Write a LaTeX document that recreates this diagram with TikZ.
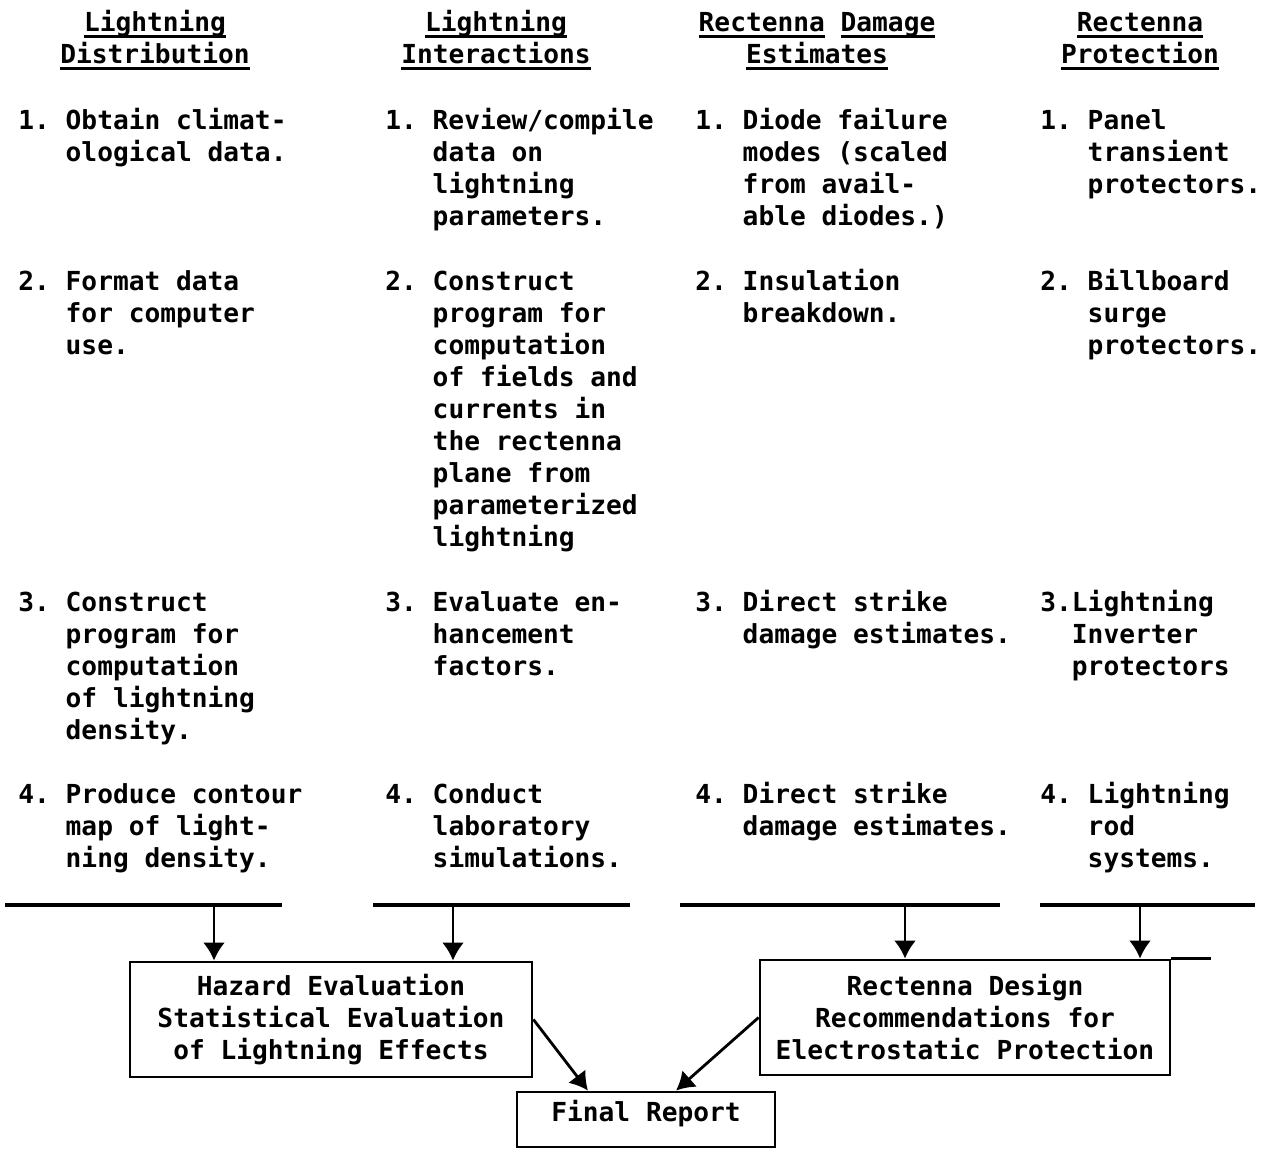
\documentclass[tikz,border=0pt]{standalone}
\usepackage{fontspec}
\setmonofont{DejaVu Sans Mono}
\usetikzlibrary{arrows.meta,calc,positioning}
\tikzset{
    txt/.style = {font=\ttfamily\bfseries\fontsize{13.1}{16}\selectfont, inner sep=0pt},
    task/.style = {txt, anchor=base west},
    head/.style = {txt, anchor=base},
    box/.style = {txt, draw, line width=1.4pt, align=center, minimum height=57.5pt},
    rule/.style = {line width=1.6pt},
    flow/.style = {line width=1.4pt, -{Latex[length=9pt,width=11pt]}}
}
\newcommand{\entry}[3][~]{#2#1\begin{tabular}[t]{@{}l@{}}#3\end{tabular}}
\newcommand{\headline}[1]{\begin{tabular}[t]{@{}c@{}}#1\end{tabular}}
\newcommand{\uln}[1]{\setbox0\hbox{#1}\rlap{\rule[-2.8pt]{\wd0}{1.2pt}}\box0\relax}

\begin{document}
\begin{tikzpicture}[x=0.5pt,y=-0.5pt]
    \useasboundingbox (0,0) rectangle (1273,1149);
    % column headings
    \node[head] (hdist) at (155,32) {\headline{\uln{Lightning}\\\uln{Distribution}}};
    \node[head] (hinter) at (496,32) {\headline{\uln{Lightning}\\\uln{Interactions}}};
    \node[head] (hdamage) at (817,32) {\headline{\uln{Rectenna} \uln{Damage}\\\uln{Estimates}}};
    \node[head] (hprot) at (1140,32) {\headline{\uln{Rectenna}\\\uln{Protection}}};
    % Lightning Distribution
    \node[task] (dist1) at (18,130) {\entry{1.}{Obtain climat-\\ological data.}};
    \node[task] (dist2) at (18,291) {\entry{2.}{Format data\\for computer\\use.}};
    \node[task] (dist3) at (18,611) {\entry{3.}{Construct\\program for\\computation\\of lightning\\density.}};
    \node[task] (dist4) at (18,803) {\entry{4.}{Produce contour\\map of light-\\ning density.}};
    % Lightning Interactions
    \node[task] (inter1) at (385,130) {\entry{1.}{Review/compile\\data on\\lightning\\parameters.}};
    \node[task] (inter2) at (385,291) {\entry{2.}{Construct\\program for\\computation\\of fields and\\currents in\\the rectenna\\plane from\\parameterized\\lightning}};
    \node[task] (inter3) at (385,611) {\entry{3.}{Evaluate en-\\hancement\\factors.}};
    \node[task] (inter4) at (385,803) {\entry{4.}{Conduct\\laboratory\\simulations.}};
    % Rectenna Damage Estimates
    \node[task] (damage1) at (695,130) {\entry{1.}{Diode failure\\modes (scaled\\from avail-\\able diodes.)}};
    \node[task] (damage2) at (695,291) {\entry{2.}{Insulation\\breakdown.}};
    \node[task] (damage3) at (695,611) {\entry{3.}{Direct strike\\damage estimates.}};
    \node[task] (damage4) at (695,803) {\entry{4.}{Direct strike\\damage estimates.}};
    % Rectenna Protection
    \node[task] (prot1) at (1040,130) {\entry{1.}{Panel\\transient\\protectors.}};
    \node[task] (prot2) at (1040,291) {\entry{2.}{Billboard\\surge\\protectors.}};
    \node[task] (prot3) at (1040,611) {\entry[]{3.}{Lightning\\Inverter\\protectors}};
    \node[task] (prot4) at (1040,803) {\entry{4.}{Lightning\\rod\\systems.}};
    % summary boxes
    \node[box, minimum width=201pt] (hazard) at (331,1019.5) {Hazard Evaluation\\Statistical Evaluation\\of Lightning Effects};
    \node[box, minimum width=205pt] (design) at (965,1017.5) {Rectenna Design\\Recommendations for\\Electrostatic Protection};
    \node[box, minimum width=129pt, minimum height=27.5pt, text depth=9pt] (report) at (646,1119.5) {Final Report};
    \draw[rule] (design.north east) -- ++(40,0);
    % rules under the columns
    \draw[rule] (5,905) -- (282,905);
    \draw[rule] (373,905) -- (630,905);
    \draw[rule] (680,905) -- (1000,905);
    \draw[rule] (1040,905) -- (1255,905);
    \coordinate (r1) at (214,905);
    \coordinate (r2) at (453,905);
    \coordinate (r3) at (905,905);
    \coordinate (r4) at (1140,905);
    % arrows
    \draw[flow] (r1) -- (r1 |- hazard.north);
    \draw[flow] (r2) -- (r2 |- hazard.north);
    \draw[flow] (r3) -- (r3 |- design.north);
    \draw[flow] (r4) -- (r4 |- design.north);
    \draw[flow] (hazard.east) -- ([xshift=-29pt]report.north);
    \draw[flow] (design.west) -- ([xshift=15pt]report.north);
\end{tikzpicture}
\end{document}
